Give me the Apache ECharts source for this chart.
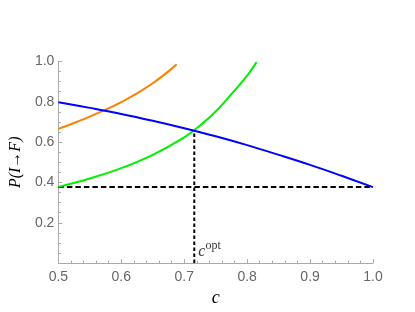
<!DOCTYPE html>
<html>
<head>
<meta charset="utf-8">
<script src="https://cdn.jsdelivr.net/npm/echarts@6/dist/echarts.min.js"></script>
<style>html,body{margin:0;padding:0;background:#fff;}#chart{width:415px;height:312px;}</style>
</head>
<body>
<div id="chart"></div>
<script>
// Blue curve
const cBlue = [0.5, 0.55, 0.6, 0.65, 0.7, 0.75, 0.8, 0.85, 0.9, 0.95, 1.0];
const pBlue = [0.798, 0.770, 0.740, 0.706, 0.669, 0.629, 0.585, 0.537, 0.487, 0.433, 0.377];
// Orange curve
const cOrange = [0.5, 0.525, 0.55, 0.575, 0.6, 0.625, 0.65, 0.675, 0.688];
const pOrange = [0.666, 0.695, 0.727, 0.761, 0.799, 0.842, 0.892, 0.951, 0.986];
// Green curve
const cGreen = [0.5, 0.55, 0.6, 0.65, 0.7, 0.725, 0.75, 0.775, 0.8, 0.815];
const pGreen = [0.378, 0.420, 0.471, 0.537, 0.624, 0.682, 0.752, 0.838, 0.930, 0.997];
// Reference lines
const cOpt = 0.716;
const pOpt = 0.656;
const pBase = 0.377;
const cRange = [0.5, 1.0];
const labelPos = [0.716, 0.066];
// Ticks
const xTicks = [0.5, 0.6, 0.7, 0.8, 0.9, 1.0];
const yTicks = [0.2, 0.4, 0.6, 0.8, 1.0];

const zip = (a, b) => a.map((v, i) => [v, b[i]]);

const axisGray = '#aaaaaa';
const labelGray = '#666666';

const chart = echarts.init(document.getElementById('chart'), null, {renderer: 'canvas'});
chart.setOption({
  animation: false,
  grid: {left: 57, right: 42, top: 61.5, bottom: 48.5},
  xAxis: {
    type: 'value', min: 0.5, max: 1.0, interval: 0.1,
    name: 'c', nameLocation: 'middle', nameGap: 24,
    nameTextStyle: {fontFamily: 'Liberation Serif', fontStyle: 'italic', fontSize: 18, color: '#000'},
    axisLine: {show: true, lineStyle: {color: axisGray, width: 1}},
    axisTick: {show: true, inside: true, length: 4, lineStyle: {color: axisGray}},
    minorTick: {show: true, splitNumber: 5, length: 2.5, lineStyle: {color: axisGray}},
    splitLine: {show: false},
    axisLabel: {color: labelGray, fontFamily: 'Liberation Sans', fontSize: 14, margin: 7,
      formatter: v => v.toFixed(1)}
  },
  yAxis: {
    type: 'value', min: 0, max: 1.0, interval: 0.2,
    name: 'P(I\u2192F)', nameLocation: 'middle', nameGap: 29, nameRotate: 90,
    nameTextStyle: {fontFamily: 'Liberation Serif', fontStyle: 'italic', fontSize: 16, color: '#000'},
    axisLine: {show: true, lineStyle: {color: axisGray, width: 1}},
    axisTick: {show: true, inside: true, length: 4, lineStyle: {color: axisGray}},
    minorTick: {show: true, splitNumber: 4, length: 2.5, lineStyle: {color: axisGray}},
    splitLine: {show: false},
    axisLabel: {color: labelGray, fontFamily: 'Liberation Sans', fontSize: 14, margin: 4,
      showMinLabel: false, formatter: v => v.toFixed(1)}
  },
  series: [
    {type: 'line', data: [[cRange[0], pBase], [cRange[1], pBase]], symbol: 'none',
      lineStyle: {color: '#000', width: 2, type: [5.5, 3]}, z: 1},
    {type: 'line', data: [[cOpt, 0], [cOpt, pOpt]], symbol: 'none',
      lineStyle: {color: '#000', width: 2, type: [3.5, 2.5]}, z: 1},
    {type: 'line', data: zip(cOrange, pOrange), smooth: 0.4, symbol: 'none',
      lineStyle: {color: '#ff8000', width: 2}, z: 2},
    {type: 'line', data: zip(cGreen, pGreen), smooth: 0.4, symbol: 'none',
      lineStyle: {color: '#00f000', width: 2}, z: 3},
    {type: 'line', data: zip(cBlue, pBlue), smooth: 0.4, symbol: 'none',
      lineStyle: {color: '#0000ff', width: 2}, z: 4},
    {type: 'scatter', data: [labelPos], symbolSize: 0, silent: true,
      label: {show: true, position: 'right', distance: 4,
        formatter: '{c|c}{s|opt}',
        rich: {
          c: {fontFamily: 'Liberation Serif', fontStyle: 'italic', fontSize: 16, color: '#000', verticalAlign: 'bottom', lineHeight: 20},
          s: {fontFamily: 'Liberation Serif', fontSize: 12, color: '#000', verticalAlign: 'top', lineHeight: 20}
        }}, z: 5}
  ]
});
</script>
</body>
</html>
